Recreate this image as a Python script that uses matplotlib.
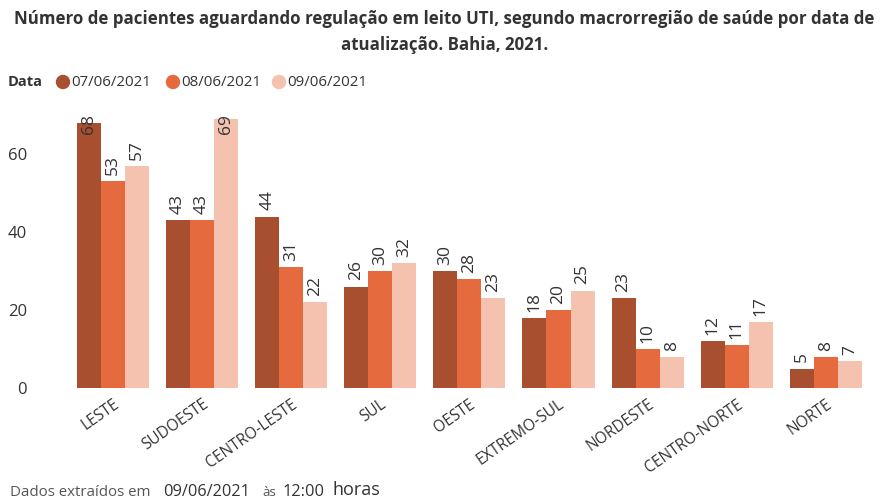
import matplotlib
matplotlib.use("Agg")
import matplotlib.pyplot as plt
import numpy as np

plt.rcParams['font.family'] = ['Open Sans', 'DejaVu Sans']

categories = ["LESTE", "SUDOESTE", "CENTRO-LESTE", "SUL", "OESTE",
              "EXTREMO-SUL", "NORDESTE", "CENTRO-NORTE", "NORTE"]
series_names = ["07/06/2021", "08/06/2021", "09/06/2021"]
d0706 = [68, 43, 44, 26, 30, 18, 23, 12, 5]
d0806 = [53, 43, 31, 30, 28, 20, 10, 11, 8]
d0906 = [57, 69, 22, 32, 23, 25, 8, 17, 7]
yticks = [0, 20, 40, 60]

colors = ["#A84F2F", "#E56B3E", "#F4C2AE"]
text_col = "#333333"

fig = plt.figure(figsize=(8.89, 5.01), dpi=100)
ax = fig.add_axes([0.077, 0.2255, 0.902, 0.5445])

x = np.arange(len(categories))
w = 0.27
series = [d0706, d0806, d0906]
ymax = 70
for i, (vals, c) in enumerate(zip(series, colors)):
    xs = x + (i - 1) * w
    ax.bar(xs, vals, width=w, color=c, linewidth=0)
    for xi, v in zip(xs, vals):
        if v + 8 > ymax:
            ax.text(xi, ymax + 0.3, f"{v}", rotation=90, ha="center", va="top",
                    fontsize=12.5, color=text_col, clip_on=False)
        else:
            ax.text(xi, v + 1.6, f"{v}", rotation=90, ha="center", va="bottom",
                    fontsize=12.5, color=text_col)

ax.set_xlim(-0.5, len(categories) - 0.5)
ax.set_ylim(0, ymax)
ax.set_yticks(yticks)
ax.set_yticklabels([str(t) for t in yticks], fontsize=12, color=text_col)
ax.set_xticks(x)
ax.set_xticklabels(categories, rotation=35, ha="right", rotation_mode="anchor",
                   fontsize=11.2, color=text_col)
ax.tick_params(axis="both", length=0)
ax.tick_params(axis="y", pad=30)
ax.tick_params(axis="x", pad=6)
for s in ax.spines.values():
    s.set_visible(False)

# Title
fig.text(0.5, 0.963, "Número de pacientes aguardando regulação em leito UTI, segundo macrorregião de saúde por data de",
         ha="center", va="center", fontsize=12.2, fontweight="bold", color=text_col)
fig.text(0.5, 0.910, "atualização. Bahia, 2021.",
         ha="center", va="center", fontsize=12.2, fontweight="bold", color=text_col)

# Legend
ly = 1 - 82 / 501
fig.text(8 / 889, ly, "Data", ha="left", va="center", fontsize=10.5, fontweight="bold", color=text_col)
leg_x = [63, 173, 279]
for lx, name, c in zip(leg_x, series_names, colors):
    fig.patches.append(matplotlib.patches.Ellipse((lx / 889, ly), 13 / 889, 13 / 501,
                                                  transform=fig.transFigure, color=c))
    fig.text((lx + 8) / 889, ly, name, ha="left", va="center", fontsize=10.8, color=text_col)

# Footer
fy = 1 - 492 / 501
fig.text(10 / 889, fy, "Dados extraídos em", ha="left", va="center", fontsize=10.8, color="#555555")
fig.text(163 / 889, fy, "09/06/2021", ha="left", va="center", fontsize=11.8, color=text_col)
fig.text(262 / 889, fy, "às", ha="left", va="center", fontsize=9.5, color="#555555")
fig.text(282 / 889, fy, "12:00", ha="left", va="center", fontsize=11.8, color=text_col)
fig.text(333 / 889, fy + 0.004, "horas", ha="left", va="center", fontsize=13, color=text_col)

fig.savefig("out.png", dpi=100)
